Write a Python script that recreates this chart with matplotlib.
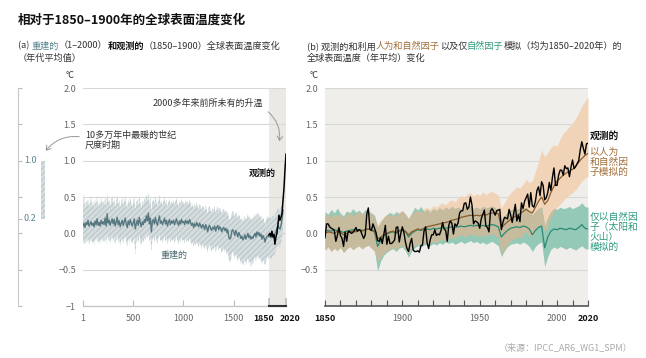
import matplotlib
matplotlib.use("Agg")
import matplotlib.pyplot as plt
from matplotlib.patches import FancyArrowPatch
import matplotlib.transforms as mtransforms
import numpy as np

plt.rcParams['font.family'] = ['Noto Sans CJK SC', 'DejaVu Sans']
plt.rcParams['axes.unicode_minus'] = True
plt.rcParams['hatch.linewidth'] = 0.5

# ---------------- data ----------------
# (a) reconstruction, decadal values, years 1..1991 step 10
recon_years = list(range(1, 2000, 10))
recon_mean = [
    0.10, 0.14, 0.08, 0.15, 0.12, 0.18, 0.10, 0.13, 0.16, 0.11,
    0.14, 0.09, 0.17, 0.12, 0.20, 0.11, 0.15, 0.10, 0.18, 0.13,
    0.16, 0.12, 0.21, 0.10, 0.27, 0.14, 0.18, 0.11, 0.16, 0.20,
    0.13, 0.19, 0.10, 0.15, 0.22, 0.12, 0.17, 0.09, 0.14, 0.18,
    0.11, 0.16, 0.21, 0.13, 0.08, 0.17, 0.12, 0.19, 0.14, 0.10,
    0.15, 0.20, 0.06, 0.13, 0.18, 0.11, 0.22, 0.14, 0.09, 0.16,
    0.12, 0.19, 0.15, 0.24, 0.17, 0.28, 0.13, 0.21, 0.02, 0.16,
    0.19, 0.13, 0.22, 0.15, 0.11, 0.18, 0.24, 0.14, 0.17, 0.12,
    0.16, 0.21, 0.13, 0.18, 0.10, 0.15, 0.19, 0.12, 0.17, 0.14,
    0.18, 0.12, 0.16, 0.20, 0.14, 0.11, 0.17, 0.13, 0.19, 0.15,
    0.16, 0.12, 0.18, 0.14, 0.17, 0.13, 0.19, 0.15, 0.11, 0.14,
    0.08, 0.13, 0.10, 0.15, 0.12, 0.09, 0.14, 0.11, 0.07, 0.12,
    0.10, 0.05, 0.12, 0.08, 0.02, 0.09, 0.11, 0.06, 0.04, 0.08,
    0.06, 0.10, 0.03, 0.08, 0.11, 0.05, 0.09, 0.07, 0.02, 0.06,
    0.08, 0.04, 0.07, 0.01, 0.05, -0.05, -0.08, -0.06, 0.03, 0.05,
    0.02, -0.03, 0.04, 0.00, -0.05, 0.01, -0.02, -0.07, -0.04, -0.09,
    -0.06, -0.02, -0.08, -0.04, 0.00, -0.06, -0.03, -0.08, -0.05, -0.07,
    -0.03, 0.00, -0.05, 0.02, -0.02, 0.01, -0.04, -0.01, -0.08, -0.03,
    -0.06, -0.12, -0.07, -0.04, -0.03, -0.05, -0.02, -0.06, -0.03, -0.01,
    -0.04, 0.00, 0.02, 0.08, 0.10, 0.07, 0.06, 0.11, 0.20, 0.32,
]
recon_upper = [
    0.38, 0.55, 0.34, 0.45, 0.40, 0.48, 0.36, 0.42, 0.50, 0.37,
    0.44, 0.35, 0.47, 0.39, 0.52, 0.36, 0.43, 0.38, 0.49, 0.40,
    0.45, 0.38, 0.50, 0.36, 0.55, 0.42, 0.47, 0.37, 0.44, 0.52,
    0.40, 0.48, 0.36, 0.43, 0.53, 0.39, 0.46, 0.35, 0.42, 0.49,
    0.38, 0.45, 0.51, 0.40, 0.34, 0.47, 0.39, 0.50, 0.42, 0.36,
    0.43, 0.50, 0.33, 0.41, 0.47, 0.38, 0.52, 0.42, 0.35, 0.45,
    0.39, 0.48, 0.43, 0.54, 0.45, 0.57, 0.40, 0.50, 0.30, 0.44,
    0.47, 0.40, 0.51, 0.43, 0.37, 0.46, 0.53, 0.41, 0.45, 0.38,
    0.44, 0.50, 0.40, 0.46, 0.36, 0.43, 0.48, 0.39, 0.45, 0.41,
    0.46, 0.39, 0.44, 0.49, 0.41, 0.37, 0.45, 0.40, 0.47, 0.42,
    0.43, 0.38, 0.46, 0.41, 0.44, 0.39, 0.47, 0.42, 0.36, 0.40,
    0.34, 0.40, 0.36, 0.42, 0.38, 0.33, 0.41, 0.37, 0.32, 0.38,
    0.36, 0.30, 0.39, 0.33, 0.27, 0.35, 0.38, 0.31, 0.29, 0.34,
    0.32, 0.37, 0.28, 0.34, 0.38, 0.30, 0.35, 0.33, 0.27, 0.31,
    0.34, 0.29, 0.33, 0.26, 0.30, 0.22, 0.18, 0.21, 0.28, 0.31,
    0.27, 0.22, 0.30, 0.25, 0.20, 0.26, 0.23, 0.17, 0.21, 0.16,
    0.19, 0.24, 0.17, 0.22, 0.27, 0.20, 0.23, 0.18, 0.21, 0.19,
    0.23, 0.27, 0.20, 0.29, 0.24, 0.28, 0.21, 0.25, 0.17, 0.22,
    0.19, 0.12, 0.18, 0.22, 0.23, 0.20, 0.24, 0.19, 0.22, 0.25,
    0.21, 0.26, 0.28, 0.33, 0.36, 0.32, 0.31, 0.37, 0.44, 0.48,
]
recon_lower = [
    -0.14, -0.10, -0.16, -0.08, -0.12, -0.06, -0.15, -0.11, -0.07, -0.13,
    -0.10, -0.16, -0.07, -0.12, -0.04, -0.14, -0.09, -0.15, -0.06, -0.11,
    -0.08, -0.13, -0.03, -0.15, 0.00, -0.10, -0.06, -0.14, -0.08, -0.04,
    -0.12, -0.05, -0.15, -0.09, -0.02, -0.13, -0.07, -0.17, -0.10, -0.06,
    -0.14, -0.08, -0.03, -0.12, -0.18, -0.07, -0.13, -0.05, -0.10, -0.15,
    -0.10, -0.04, -0.30, -0.12, -0.06, -0.14, -0.02, -0.11, -0.17, -0.08,
    -0.13, -0.05, -0.10, -0.01, -0.08, 0.01, -0.12, -0.04, -0.25, -0.09,
    -0.06, -0.12, -0.03, -0.10, -0.14, -0.07, -0.01, -0.11, -0.08, -0.13,
    -0.09, -0.03, -0.12, -0.06, -0.15, -0.10, -0.05, -0.13, -0.07, -0.11,
    -0.07, -0.13, -0.09, -0.04, -0.11, -0.15, -0.08, -0.12, -0.06, -0.10,
    -0.09, -0.14, -0.07, -0.12, -0.08, -0.13, -0.06, -0.11, -0.16, -0.12,
    -0.18, -0.13, -0.17, -0.11, -0.15, -0.19, -0.13, -0.16, -0.21, -0.15,
    -0.17, -0.23, -0.15, -0.20, -0.27, -0.18, -0.16, -0.22, -0.25, -0.20,
    -0.22, -0.17, -0.26, -0.20, -0.16, -0.24, -0.19, -0.21, -0.28, -0.23,
    -0.20, -0.26, -0.22, -0.30, -0.25, -0.36, -0.40, -0.37, -0.27, -0.25,
    -0.30, -0.35, -0.28, -0.33, -0.39, -0.32, -0.36, -0.42, -0.38, -0.45,
    -0.40, -0.35, -0.44, -0.38, -0.33, -0.41, -0.37, -0.47, -0.39, -0.43,
    -0.36, -0.32, -0.39, -0.30, -0.35, -0.31, -0.38, -0.34, -0.44, -0.37,
    -0.38, -0.45, -0.39, -0.34, -0.32, -0.36, -0.31, -0.37, -0.33, -0.29,
    -0.32, -0.27, -0.24, -0.18, -0.15, -0.19, -0.20, -0.14, -0.06, 0.05,
]
# (a) observed decadal
obs_dec_years = list(range(1850, 2021, 10))
obs_dec = [-0.02, 0.00, -0.04, 0.03, -0.05, -0.02, -0.15, -0.05, 0.00,
           0.12, 0.25, 0.18, 0.22, 0.27, 0.45, 0.62, 0.88, 1.09]

# (b) observed annual 1850-2020
obs_years = list(range(1850, 2021))
obs_annual = [
    -0.06, 0.13, 0.13, 0.09, 0.07, 0.06, 0.04, -0.11, -0.03, 0.08,
    -0.03, -0.07, -0.18, 0.02, -0.11, 0.03, 0.02, 0.00, 0.01, 0.04,
    0.08, 0.03, 0.05, 0.04, -0.02, -0.07, -0.02, 0.26, 0.35, 0.06,
    0.04, 0.13, 0.07, 0.01, -0.10, -0.11, -0.06, -0.14, -0.02, 0.11,
    -0.15, -0.04, -0.14, -0.14, -0.12, -0.09, 0.08, 0.09, -0.12, 0.00,
    0.09, 0.01, -0.12, -0.21, -0.25, -0.14, -0.07, -0.23, -0.25, -0.25,
    -0.24, -0.26, -0.17, -0.16, 0.03, 0.09, -0.13, -0.21, -0.09, -0.02,
    -0.02, 0.05, -0.03, -0.01, -0.02, 0.04, 0.15, 0.06, 0.04, -0.11,
    0.11, 0.17, 0.14, -0.01, 0.13, 0.10, 0.14, 0.28, 0.31, 0.31,
    0.41, 0.42, 0.33, 0.36, 0.50, 0.39, 0.13, 0.17, 0.16, 0.14,
    0.07, 0.20, 0.26, 0.32, 0.10, 0.08, 0.02, 0.31, 0.34, 0.30,
    0.25, 0.31, 0.32, 0.33, 0.05, 0.15, 0.22, 0.21, 0.20, 0.33,
    0.25, 0.15, 0.27, 0.40, 0.17, 0.25, 0.16, 0.42, 0.34, 0.44,
    0.49, 0.54, 0.36, 0.56, 0.38, 0.36, 0.44, 0.59, 0.64, 0.52,
    0.71, 0.66, 0.46, 0.49, 0.56, 0.70, 0.59, 0.77, 0.90, 0.66,
    0.66, 0.80, 0.87, 0.87, 0.80, 0.93, 0.89, 0.90, 0.78, 0.91,
    1.01, 0.89, 0.92, 0.96, 1.00, 1.15, 1.26, 1.17, 1.09, 1.23,
    1.24,
]

# (b) simulations, every 2 years 1850-2020
sim_years = list(range(1850, 2021, 2))
hum_nat_mean = [
    0.00, 0.02, 0.01, 0.00, 0.03, 0.01, -0.02, 0.00, 0.02, 0.03,
    0.02, 0.04, 0.03, 0.05, 0.06, 0.04, 0.02, -0.08, -0.05, -0.02,
    0.00, 0.02, 0.03, 0.01, 0.04, 0.05, 0.03, -0.02, 0.02, 0.04,
    0.06, 0.05, 0.07, 0.09, 0.10, 0.11, 0.12, 0.13, 0.14, 0.15,
    0.16, 0.18, 0.19, 0.20, 0.22, 0.23, 0.24, 0.25, 0.24, 0.25,
    0.24, 0.26, 0.25, 0.27, 0.28, 0.28, 0.27, 0.08, 0.12, 0.16,
    0.19, 0.22, 0.25, 0.27, 0.30, 0.33, 0.30, 0.28, 0.36, 0.44,
    0.50, 0.40, 0.45, 0.56, 0.65, 0.72, 0.76, 0.80, 0.83, 0.86,
    0.88, 0.92, 0.98, 1.03, 1.07, 1.10,
]
hum_nat_upper = [
    0.25, 0.28, 0.22, 0.27, 0.24, 0.29, 0.21, 0.26, 0.30, 0.25,
    0.27, 0.31, 0.26, 0.30, 0.33, 0.27, 0.22, 0.12, 0.18, 0.22,
    0.26, 0.24, 0.29, 0.25, 0.30, 0.31, 0.27, 0.20, 0.27, 0.30,
    0.33, 0.29, 0.34, 0.36, 0.33, 0.38, 0.36, 0.40, 0.42, 0.39,
    0.44, 0.46, 0.43, 0.49, 0.52, 0.50, 0.54, 0.56, 0.51, 0.55,
    0.52, 0.57, 0.53, 0.56, 0.58, 0.55, 0.53, 0.35, 0.42, 0.50,
    0.56, 0.60, 0.64, 0.62, 0.68, 0.74, 0.70, 0.72, 0.85, 0.98,
    1.15, 1.05, 1.12, 1.18, 1.22, 1.20, 1.30, 1.38, 1.42, 1.47,
    1.52, 1.58, 1.66, 1.75, 1.82, 1.88,
]
hum_nat_lower = [
    -0.24, -0.20, -0.26, -0.21, -0.25, -0.19, -0.27, -0.22, -0.18, -0.23,
    -0.20, -0.17, -0.22, -0.18, -0.16, -0.21, -0.25, -0.40, -0.33, -0.27,
    -0.24, -0.22, -0.19, -0.23, -0.18, -0.17, -0.21, -0.28, -0.20, -0.17,
    -0.15, -0.18, -0.14, -0.12, -0.15, -0.11, -0.13, -0.10, -0.08, -0.11,
    -0.07, -0.05, -0.08, -0.04, -0.02, -0.05, -0.03, -0.01, -0.04, -0.02,
    -0.05, -0.01, -0.04, -0.02, 0.00, -0.03, -0.06, -0.30, -0.22, -0.15,
    -0.10, -0.08, -0.05, -0.07, -0.02, 0.02, -0.03, -0.05, 0.05, 0.10,
    0.12, 0.02, 0.10, 0.22, 0.30, 0.36, 0.40, 0.45, 0.50, 0.53,
    0.56, 0.60, 0.66, 0.72, 0.76, 0.78,
]
nat_mean = [
    0.03, 0.04, 0.03, 0.05, 0.04, 0.03, 0.01, 0.03, 0.04, 0.05,
    0.04, 0.05, 0.04, 0.05, 0.06, 0.05, 0.03, -0.18, -0.10, -0.04,
    -0.01, 0.01, 0.02, 0.00, 0.03, 0.04, 0.02, -0.05, 0.00, 0.03,
    0.05, 0.04, 0.05, 0.06, 0.05, 0.07, 0.06, 0.07, 0.08, 0.07,
    0.08, 0.09, 0.08, 0.09, 0.10, 0.09, 0.10, 0.11, 0.10, 0.11,
    0.10, 0.11, 0.10, 0.11, 0.12, 0.11, 0.09, -0.05, 0.00, 0.04,
    0.07, 0.08, 0.09, 0.08, 0.10, 0.09, 0.06, -0.02, 0.04, 0.08,
    0.10, -0.20, -0.05, 0.03, 0.06, 0.05, 0.07, 0.06, 0.05, 0.07,
    0.06, 0.05, 0.08, 0.12, 0.07, 0.06,
]
nat_upper = [
    0.30, 0.26, 0.33, 0.28, 0.35, 0.27, 0.24, 0.31, 0.28, 0.34,
    0.29, 0.32, 0.27, 0.33, 0.30, 0.28, 0.25, 0.08, 0.15, 0.22,
    0.26, 0.29, 0.25, 0.30, 0.27, 0.31, 0.26, 0.20, 0.28, 0.36,
    0.32, 0.37, 0.30, 0.33, 0.29, 0.34, 0.31, 0.35, 0.32, 0.36,
    0.33, 0.37, 0.34, 0.36, 0.33, 0.37, 0.35, 0.38, 0.34, 0.36,
    0.33, 0.37, 0.35, 0.36, 0.38, 0.35, 0.33, 0.18, 0.24, 0.29,
    0.32, 0.34, 0.33, 0.35, 0.34, 0.36, 0.30, 0.25, 0.30, 0.34,
    0.36, 0.10, 0.22, 0.30, 0.34, 0.33, 0.36, 0.34, 0.35, 0.37,
    0.34, 0.36, 0.38, 0.42, 0.37, 0.36,
]
nat_lower = [
    -0.22, -0.18, -0.24, -0.20, -0.23, -0.19, -0.26, -0.21, -0.18, -0.22,
    -0.19, -0.17, -0.21, -0.18, -0.16, -0.20, -0.24, -0.52, -0.38, -0.30,
    -0.26, -0.23, -0.21, -0.25, -0.20, -0.19, -0.24, -0.33, -0.24, -0.20,
    -0.17, -0.19, -0.16, -0.15, -0.17, -0.14, -0.16, -0.13, -0.15, -0.12,
    -0.14, -0.12, -0.15, -0.13, -0.11, -0.14, -0.12, -0.10, -0.13, -0.11,
    -0.14, -0.12, -0.15, -0.13, -0.11, -0.14, -0.17, -0.32, -0.24, -0.18,
    -0.15, -0.14, -0.13, -0.15, -0.12, -0.14, -0.18, -0.25, -0.18, -0.14,
    -0.12, -0.46, -0.32, -0.22, -0.19, -0.21, -0.18, -0.20, -0.22, -0.19,
    -0.21, -0.23, -0.20, -0.17, -0.21, -0.22,
]

yticks = [-1, -0.5, 0.0, 0.5, 1.0, 1.5, 2.0]
ytick_labels_a = ['−1', '−0.5', '0.0', '0.5', '1.0', '1.5', '2.0']
ytick_labels_b = ['', '−0.5', '0.0', '0.5', '1.0', '1.5', '2.0']
xticks_a = [1, 500, 1000, 1500, 1850, 2020]
xticks_b_labels = {1850: '1850', 1900: '1900', 1950: '1950', 2000: '2000', 2020: '2020'}
warm_period = [0.2, 1.0]

# ---------------- style ----------------
W, H = 646, 358
TXT = '#333333'
TICK = '#666666'
GRID = '#d8d8d6'
BEIGE = '#f0eeea'
SHADE_A = '#ebe9e4'
RECON_LINE = '#577880'
RECON_FILL = '#d4dcde'
RECON_HATCH = '#aebcbf'
RECON_TXT = '#5b8790'
BROWN = '#8a5a2b'
BROWN_TXT = '#a06e3a'
PEACH_C = '#f1d4b7'
TEAL_C = '#94c9b8'
OVERLAP_C = '#c6bb9d'
TEAL_LINE = '#2b8a72'
TEAL_TXT = '#2e9a80'


def fx(px):
    return px / W


def fy(py):
    return 1 - py / H


fig = plt.figure(figsize=(W / 100, H / 100), dpi=100)
fig.patch.set_facecolor('white')
renderer = fig.canvas.get_renderer()

ax_top, ax_bot = 88, 306
ax_a = fig.add_axes([fx(83), fy(ax_bot), fx(286 - 83), (ax_bot - ax_top) / H])
ax_b = fig.add_axes([fx(325), fy(ax_bot), fx(588 - 325), (ax_bot - ax_top) / H])
ax_m = fig.add_axes([fx(18), fy(ax_bot), fx(40), (ax_bot - ax_top) / H])

# ---------- panel a ----------
ax = ax_a
ax.set_xlim(1, 2020)
ax.set_ylim(-1, 2)
ax.axvspan(1850, 2020, color=SHADE_A, lw=0, zorder=0)
ax.set_yticks(yticks)
ax.set_yticklabels(ytick_labels_a)
ax.yaxis.grid(True, color=GRID, lw=0.8, zorder=0.5)
ax.set_axisbelow(True)
ax.fill_between(recon_years, recon_lower, recon_upper, facecolor=RECON_FILL,
                edgecolor=RECON_HATCH, hatch='//////', lw=0, zorder=2)
ax.plot(recon_years, recon_mean, color=RECON_LINE, lw=1.0, zorder=3)
ax.plot(obs_dec_years, obs_dec, color='black', lw=1.1, zorder=4)
for s in ['top', 'right', 'left']:
    ax.spines[s].set_visible(False)
ax.spines['bottom'].set_color('#c8c8c8')
ax.spines['bottom'].set_linewidth(1.0)
ax.set_xticks(xticks_a)
ax.set_xticklabels([str(v) for v in xticks_a])
ax.tick_params(axis='x', direction='in', length=4, width=0.8, color='#bbbbbb',
               labelsize=6.5, labelcolor=TICK, pad=6)
ax.tick_params(axis='y', length=0, labelsize=6.5, labelcolor=TICK, pad=5)
for lab in ax.get_xticklabels():
    txt = lab.get_text()
    if txt in ('1850', '2020'):
        lab.set_fontweight('bold')
        lab.set_color('#111111')
        lab.set_fontsize(6.3)
        dx = -4 / 72 if txt == '1850' else 3 / 72
        lab.set_transform(lab.get_transform() +
                          mtransforms.ScaledTranslation(dx, 0, fig.dpi_scale_trans))
tl = ax.xaxis.get_major_ticks()
for t in tl[-2:]:
    t.tick1line.set_color('#333333')
    t.tick1line.set_markeredgewidth(1.2)
    t.tick1line.set_markersize(6)
trans = mtransforms.blended_transform_factory(ax.transData, ax.transAxes)
ax.plot([1850, 2020], [0, 0], color='#333333', lw=1.5, transform=trans,
        clip_on=False, zorder=5)

# annotations (figure pixel positions)
fig.text(fx(208), fy(103), '2000多年来前所未有的升温', fontsize=6.5, color=TXT,
         ha='center', va='center')
fig.text(fx(262), fy(173), '观测的', fontsize=6.5, color='#111111', fontweight='bold',
         ha='center', va='center')
fig.text(fx(174), fy(255), '重建的', fontsize=6.5, color='#4d6970', ha='center', va='center')
fig.text(fx(85), fy(140.5), '10多万年中最暖的世纪\n尺度时期', fontsize=6.5, color=TXT,
         ha='left', va='center', linespacing=1.1)

# ---------- mini axis ----------
m = ax_m
m.set_xlim(0, 40)
m.set_ylim(-1, 2)
for s in ['top', 'right', 'bottom']:
    m.spines[s].set_visible(False)
m.spines['left'].set_color('#c8c8c8')
m.set_xticks([])
m.set_yticks([-1, -0.5, 0.0, 0.2, 0.5, 1.0, 1.5, 2.0])
m.set_yticklabels([])
m.tick_params(axis='y', direction='in', length=3, color='#bbbbbb', width=0.8)
m.patch.set_alpha(0)
m.bar([25], [warm_period[1] - warm_period[0]], bottom=warm_period[0], width=4.5,
      facecolor=RECON_FILL, edgecolor=RECON_HATCH, hatch='//////', lw=0)
for v in (1.0, 0.2):
    m.text(6, v, f'{v:.1f}', fontsize=6.5, color=RECON_TXT, ha='left', va='center')

# ---------- panel b ----------
ax = ax_b
ax.set_facecolor(BEIGE)
ax.set_xlim(1850, 2020)
ax.set_ylim(-1, 2)
ax.set_yticks(yticks)
ax.set_yticklabels(ytick_labels_b)
ax.yaxis.grid(True, color=GRID, lw=0.8)
ax.set_axisbelow(True)
ov_lo = np.maximum(nat_lower, hum_nat_lower)
ov_hi = np.minimum(nat_upper, hum_nat_upper)
ax.fill_between(sim_years, hum_nat_lower, hum_nat_upper, color=PEACH_C, lw=0, zorder=1)
ax.fill_between(sim_years, nat_lower, nat_upper, color=TEAL_C, lw=0, zorder=1.2)
ax.fill_between(sim_years, ov_lo, ov_hi, where=ov_hi > ov_lo, interpolate=True,
                color=OVERLAP_C, lw=0, zorder=1.4)
ax.plot(sim_years, nat_mean, color=TEAL_LINE, lw=0.9, zorder=3)
ax.plot(sim_years, hum_nat_mean, color=BROWN, lw=0.9, zorder=3)
ax.plot(obs_years, obs_annual, color='black', lw=1.0, zorder=4)
for s in ['top', 'right', 'left']:
    ax.spines[s].set_visible(False)
ax.spines['bottom'].set_color('#555555')
ax.spines['bottom'].set_linewidth(1.2)
xt = list(range(1850, 2021, 10))
ax.set_xticks(xt)
ax.set_xticklabels([xticks_b_labels.get(v, '') for v in xt])
ax.tick_params(axis='x', direction='in', length=4, width=0.8, color='#555555',
               labelsize=6.5, labelcolor=TICK, pad=6)
ax.tick_params(axis='y', length=0, labelsize=6.5, labelcolor=TICK, pad=5)
for lab in ax.get_xticklabels():
    if lab.get_text() in ('1850', '2020'):
        lab.set_fontweight('bold')
        lab.set_color('#111111')

# right labels
fig.text(fx(590), fy(136), '观测的', fontsize=7, fontweight='bold', color='#111111',
         ha='left', va='center')
fig.text(fx(590), fy(162), '以人为\n和自然因\n子模拟的', fontsize=7, color=BROWN_TXT,
         ha='left', va='center', linespacing=0.98)
fig.text(fx(590), fy(232), '仅以自然因\n子（太阳和\n火山）\n模拟的', fontsize=7,
         color=TEAL_TXT, ha='left', va='center', linespacing=0.98)

# ---------- titles ----------
fig.text(fx(18), fy(20), '相对于1850–1900年的全球表面温度变化', fontsize=9,
         fontweight='bold', color='#111111', ha='left', va='center')


def text_width(s, size):
    t = fig.text(0, 0, s, fontsize=size)
    w = t.get_window_extent(renderer).width
    t.remove()
    return w


def rich(px, py, parts, size=6.6):
    # consecutive segments; each placed at the advance of the text before it
    ref_w = text_width('和', size)
    prefix = ''
    for s, c, w in parts:
        off = (text_width(prefix + '和', size) - ref_w) if prefix else 0.0
        fig.text(fx(px) + off / W, fy(py), s, color=c, fontsize=size,
                 fontweight=w, ha='left', va='center')
        prefix += s


rich(18, 46, [('(a) ', TXT, 'normal'), ('重建的', RECON_TXT, 'normal'),
              ('（1–2000）', TXT, 'normal'), ('和观测的', '#111111', 'bold'),
              ('（1850–1900）全球表面温度变化', TXT, 'normal')])
rich(18, 58, [('（年代平均值）', TXT, 'normal')])
rich(307, 46, [('(b) 观测的和利用', TXT, 'normal'), ('人为和自然因子', BROWN_TXT, 'normal'),
               ('以及仅', TXT, 'normal'), ('自然因子', TEAL_TXT, 'normal'),
               ('模拟（均为1850–2020年）的', TXT, 'normal')])
rich(307, 58, [('全球表面温度（年平均）变化', TXT, 'normal')])

fig.text(fx(70), fy(75), '°C', fontsize=6.5, color=TXT, ha='center', va='center')
fig.text(fx(314), fy(75), '°C', fontsize=6.5, color=TXT, ha='center', va='center')

fig.text(fx(632), fy(348), '（来源：IPCC_AR6_WG1_SPM）', fontsize=6.5, color='#aaaaaa',
         ha='right', va='center')

# arrows
arr1 = FancyArrowPatch((fx(82), fy(137)), (fx(44), fy(153)), transform=fig.transFigure,
                       connectionstyle='arc3,rad=0.3', arrowstyle='->,head_length=3,head_width=2',
                       color='#999999', lw=0.7)
fig.add_artist(arr1)
arr2 = FancyArrowPatch((fx(266), fy(110)), (fx(279), fy(144)), transform=fig.transFigure,
                       connectionstyle='arc3,rad=-0.3', arrowstyle='->,head_length=3,head_width=2',
                       color='#999999', lw=0.7)
fig.add_artist(arr2)

fig.savefig('out.png', dpi=100, facecolor='white')
